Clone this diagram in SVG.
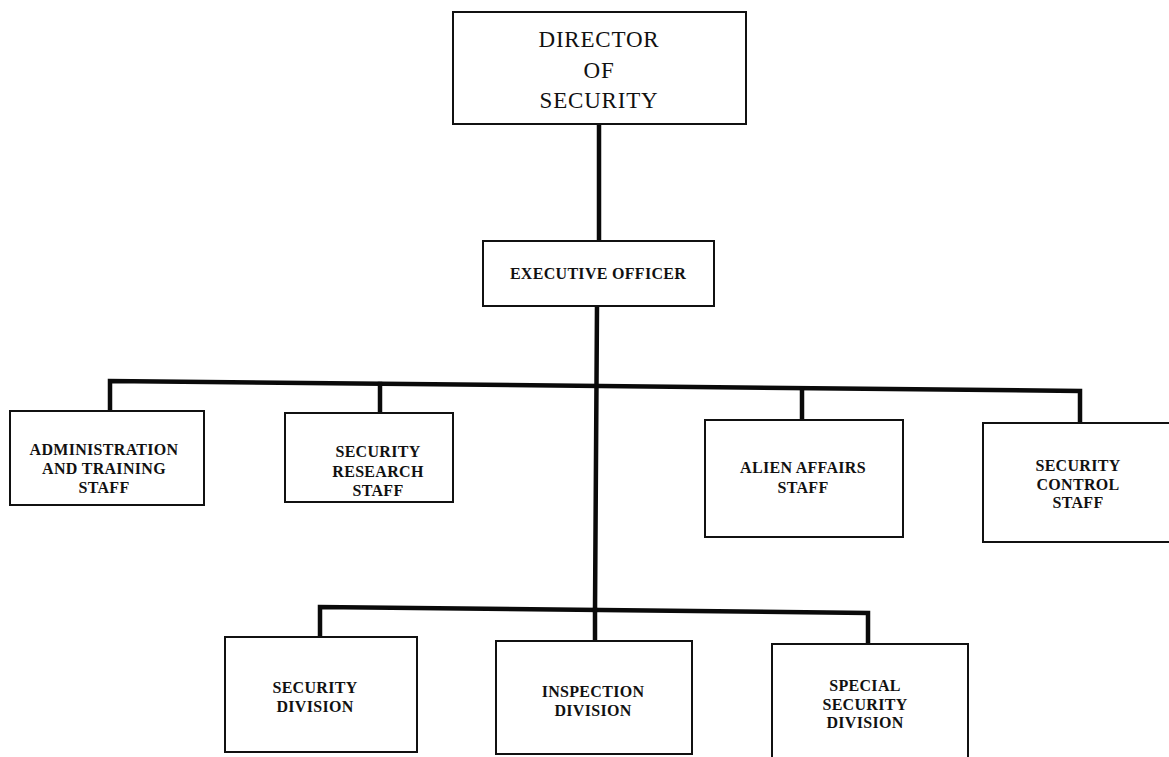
<svg xmlns="http://www.w3.org/2000/svg" width="1169" height="757" viewBox="0 0 1169 757">
  <style>
    .box { fill: #ffffff; stroke: #111111; stroke-width: 2; }
    .link { fill: none; stroke: #0a0a0a; stroke-width: 4.5; stroke-linecap: square; stroke-linejoin: miter; }
    .lbl { font-family: "Liberation Serif", "Times New Roman", serif; font-weight: bold; font-size: 16px; letter-spacing: 0.3px; fill: #111111; text-anchor: middle; }
    .head { font-family: "Liberation Serif", "Times New Roman", serif; font-size: 23px; letter-spacing: 0.8px; fill: #111111; text-anchor: middle; }
  </style>
  <rect x="0" y="0" width="1169" height="757" fill="#ffffff"/>

  <!-- connectors -->
  <g id="connectors">
    <line class="link" x1="599" y1="125" x2="599" y2="241"/>
    <line class="link" x1="597" y1="306" x2="595" y2="610"/>
    <!-- upper staff bar -->
    <polyline class="link" points="110,411 110,381 1080,391 1080,423"/>
    <line class="link" x1="380" y1="384" x2="380" y2="413"/>
    <line class="link" x1="802" y1="389" x2="802" y2="420"/>
    <!-- lower division bar -->
    <polyline class="link" points="320,637 320,607 868,613 868,644"/>
    <line class="link" x1="595" y1="610" x2="595" y2="641"/>
  </g>

  <g id="director">
    <rect class="box" x="453" y="12" width="293" height="112"/>
    <text class="head" x="599" y="47">DIRECTOR</text>
    <text class="head" x="599" y="78">OF</text>
    <text class="head" x="599" y="108">SECURITY</text>
  </g>

  <g id="executive-officer">
    <rect class="box" x="483" y="241" width="231" height="65"/>
    <text class="lbl" x="598" y="279">EXECUTIVE OFFICER</text>
  </g>

  <g id="admin-training">
    <rect class="box" x="10" y="411" width="194" height="94"/>
    <text class="lbl" x="104" y="455">ADMINISTRATION</text>
    <text class="lbl" x="104" y="474">AND TRAINING</text>
    <text class="lbl" x="104" y="493">STAFF</text>
  </g>

  <g id="security-research">
    <rect class="box" x="285" y="413" width="168" height="89"/>
    <text class="lbl" x="378" y="457">SECURITY</text>
    <text class="lbl" x="378" y="477">RESEARCH</text>
    <text class="lbl" x="378" y="496">STAFF</text>
  </g>

  <g id="alien-affairs">
    <rect class="box" x="705" y="420" width="198" height="117"/>
    <text class="lbl" x="803" y="473">ALIEN AFFAIRS</text>
    <text class="lbl" x="803" y="493">STAFF</text>
  </g>

  <g id="security-control">
    <rect class="box" x="983" y="423" width="200" height="119"/>
    <text class="lbl" x="1078" y="471">SECURITY</text>
    <text class="lbl" x="1078" y="490">CONTROL</text>
    <text class="lbl" x="1078" y="508">STAFF</text>
  </g>

  <g id="security-division">
    <rect class="box" x="225" y="637" width="192" height="115"/>
    <text class="lbl" x="315" y="693">SECURITY</text>
    <text class="lbl" x="315" y="712">DIVISION</text>
  </g>

  <g id="inspection-division">
    <rect class="box" x="496" y="641" width="196" height="113"/>
    <text class="lbl" x="593" y="697">INSPECTION</text>
    <text class="lbl" x="593" y="716">DIVISION</text>
  </g>

  <g id="special-security-division">
    <rect class="box" x="772" y="644" width="196" height="125"/>
    <text class="lbl" x="865" y="691">SPECIAL</text>
    <text class="lbl" x="865" y="710">SECURITY</text>
    <text class="lbl" x="865" y="728">DIVISION</text>
  </g>
</svg>
